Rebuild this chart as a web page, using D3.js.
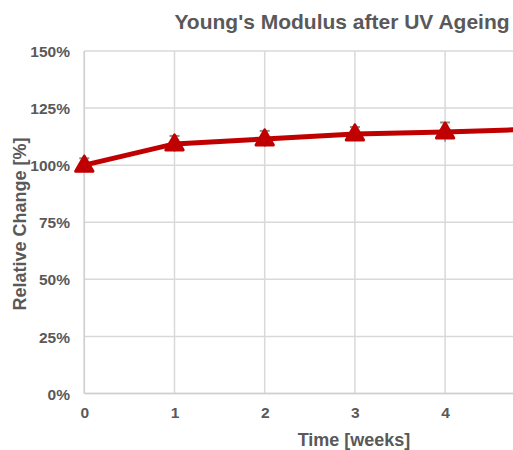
<!DOCTYPE html>
<html>
<head>
<meta charset="utf-8">
<script src="https://cdn.jsdelivr.net/npm/d3@7"></script>
<style>
  body { margin: 0; background: #fff; overflow: hidden; }
  text { font-family: "Liberation Sans", Arial, sans-serif; font-weight: bold; fill: #595959; }
</style>
</head>
<body>
<div id="chart"></div>
<script>
// data (relative change in %)
var weeks = [0, 1, 2, 3, 4, 5];
var modulus = [100, 109.3, 111.5, 113.7, 114.5, 115.8];
var errors = [3, 3.5, 3.5, 3, 4.2, 3.5];
var yTicks = [0, 25, 50, 75, 100, 125, 150];
var xGrid = [0, 1, 2, 3, 4, 5, 6];
var xTickLabels = [0, 1, 2, 3, 4]; // only these are visible in the cropped picture

var svg = d3.select('#chart').append('svg')
  .attr('width', 513)
  .attr('height', 450);

// plot area runs past the right edge, like the cropped original
var x = d3.scaleLinear().domain([0, 6]).range([84.3, 625.5]);
var y = d3.scaleLinear().domain([0, 150]).range([393.5, 51]);

// grid
svg.append('g').selectAll('line').data(yTicks)
  .enter().append('line')
  .attr('x1', x(0)).attr('x2', x(6))
  .attr('y1', function (d) { return y(d); })
  .attr('y2', function (d) { return y(d); })
  .attr('stroke', '#d9d9d9')
  .attr('stroke-width', 1.5);

svg.append('g').selectAll('line').data(xGrid)
  .enter().append('line')
  .attr('x1', function (d) { return x(d); })
  .attr('x2', function (d) { return x(d); })
  .attr('y1', y(0)).attr('y2', y(150))
  .attr('stroke', '#d9d9d9')
  .attr('stroke-width', 1.5);

// axes (labels only, lines drawn separately)
var yAxis = svg.append('g')
  .attr('transform', 'translate(70,0)')
  .call(d3.axisLeft(y).tickValues(yTicks).tickSize(0).tickPadding(0)
    .tickFormat(function (d) { return d + '%'; }));
yAxis.select('.domain').remove();
yAxis.selectAll('text')
  .style('font-size', '15.5px')
  .attr('fill', '#595959')
  .attr('dy', '0.36em');

var xAxis = svg.append('g')
  .attr('transform', 'translate(0,' + 406 + ')')
  .call(d3.axisBottom(x).tickValues(xTickLabels).tickSize(0).tickPadding(0)
    .tickFormat(d3.format('d')));
xAxis.select('.domain').remove();
xAxis.selectAll('text')
  .style('font-size', '15.5px')
  .attr('fill', '#595959')
  .attr('dy', '0.75em');

// axis lines
svg.append('line')
  .attr('x1', x(0)).attr('x2', x(6))
  .attr('y1', y(0)).attr('y2', y(0))
  .attr('stroke', '#d0d0d0').attr('stroke-width', 1.5);
svg.append('line')
  .attr('x1', x(0)).attr('x2', x(0))
  .attr('y1', y(0)).attr('y2', y(150))
  .attr('stroke', '#d0d0d0').attr('stroke-width', 1.5);

var pts = weeks.map(function (w, i) { return { x: w, v: modulus[i], e: errors[i] }; });

// error bars
var eb = svg.append('g').selectAll('g').data(pts).enter().append('g');
eb.append('line')
  .attr('x1', function (d) { return x(d.x); })
  .attr('x2', function (d) { return x(d.x); })
  .attr('y1', function (d) { return y(d.v - d.e); })
  .attr('y2', function (d) { return y(d.v + d.e); })
  .attr('stroke', '#8c8c8c').attr('stroke-width', 1.5);
eb.append('line')
  .attr('x1', function (d) { return x(d.x) - 5; })
  .attr('x2', function (d) { return x(d.x) + 5; })
  .attr('y1', function (d) { return y(d.v + d.e); })
  .attr('y2', function (d) { return y(d.v + d.e); })
  .attr('stroke', '#8c8c8c').attr('stroke-width', 2);

// line
svg.append('path')
  .datum(pts)
  .attr('d', d3.line().x(function (d) { return x(d.x); }).y(function (d) { return y(d.v); }))
  .attr('fill', 'none')
  .attr('stroke', '#c00000')
  .attr('stroke-width', 5)
  .attr('stroke-linejoin', 'round');

// triangle markers
svg.append('g').selectAll('path').data(pts)
  .enter().append('path')
  .attr('d', d3.symbol().type(d3.symbolTriangle).size(130))
  .attr('transform', function (d) { return 'translate(' + x(d.x) + ',' + (y(d.v) + 1) + ')'; })
  .attr('fill', '#c00000')
  .attr('stroke', '#c00000')
  .attr('stroke-width', 3)
  .attr('stroke-linejoin', 'round');

// titles
svg.append('text')
  .attr('x', 342).attr('y', 29)
  .attr('text-anchor', 'middle')
  .style('font-size', '21px')
  .text("Young's Modulus after UV Ageing");

svg.append('text')
  .attr('x', 354).attr('y', 446)
  .attr('text-anchor', 'middle')
  .style('font-size', '18px')
  .text('Time [weeks]');

svg.append('text')
  .attr('transform', 'translate(26,224) rotate(-90)')
  .attr('text-anchor', 'middle')
  .style('font-size', '18px')
  .text('Relative Change [%]');
</script>
</body>
</html>
